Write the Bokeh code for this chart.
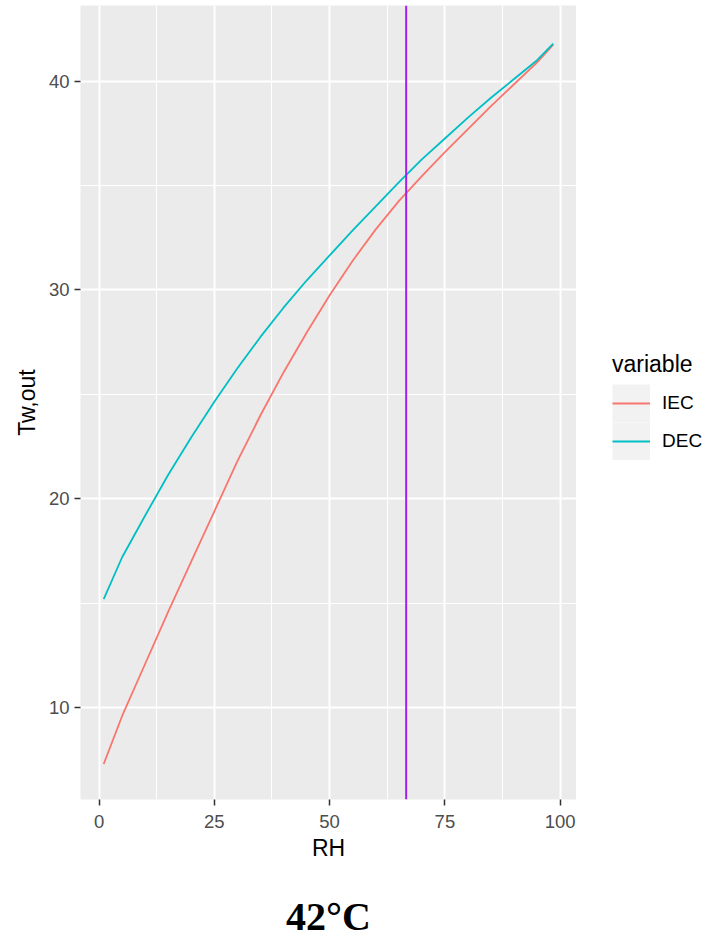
from bokeh.plotting import figure
from bokeh.layouts import row
from bokeh.models import Range1d, FixedTicker, Span, Legend, LegendItem, Title
from bokeh.embed import file_html
from bokeh.resources import INLINE

# Outlet water temperature against relative humidity, inlet air at 42 °C
rh = [1, 5, 10, 15, 20, 25, 30, 35, 40, 45, 50, 55, 60, 65, 70, 75, 80, 85, 90, 95, 98.5]
iec = [7.3, 9.6, 12.1, 14.6, 17.0, 19.4, 21.8, 24.0, 26.05, 27.95, 29.75, 31.4, 32.9, 34.25,
       35.45, 36.6, 37.7, 38.8, 39.85, 40.9, 41.75]
dec = [15.2, 17.2, 19.2, 21.15, 22.95, 24.65, 26.25, 27.75, 29.15, 30.45, 31.65, 32.85, 34.0,
       35.15, 36.25, 37.25, 38.25, 39.2, 40.1, 41.0, 41.8]
rh_marker = 66.6

series_names = ["IEC", "DEC"]
series_colors = ["#F8766D", "#00BFC4"]
x_ticks = [0, 25, 50, 75, 100]
x_minor = [12.5, 37.5, 62.5, 87.5]
y_ticks = [10, 20, 30, 40]
y_minor = [15, 25, 35]

SANS = "Liberation Sans"
LINE_W = 1.8

p = figure(frame_width=496, frame_height=794, output_backend="svg", toolbar_location=None,
           x_range=Range1d(-4.03, 103.54), y_range=Range1d(5.6, 43.62),
           min_border_left=80, min_border_right=0, min_border_top=5,
           min_border_bottom=0,
           background_fill_color="#EBEBEB", border_fill_color="white",
           outline_line_color=None)

p.xaxis.ticker = FixedTicker(ticks=x_ticks, minor_ticks=x_minor)
p.yaxis.ticker = FixedTicker(ticks=y_ticks, minor_ticks=y_minor)

for grid in (p.xgrid, p.ygrid):
    grid.grid_line_color = "white"
    grid.grid_line_width = 2
    grid.minor_grid_line_color = "white"
    grid.minor_grid_line_width = 1

for ax in (p.xaxis, p.yaxis):
    ax.axis_line_color = None
    ax.major_tick_line_color = "#333333"
    ax.major_tick_line_width = 1.5
    ax.major_tick_out = 6
    ax.major_tick_in = 0
    ax.minor_tick_line_color = None
    ax.major_label_text_font = SANS
    ax.major_label_text_font_size = "18.5px"
    ax.major_label_text_color = "#4D4D4D"
    ax.axis_label_text_font = SANS
    ax.axis_label_text_font_size = "23px"
    ax.axis_label_text_font_style = "normal"
    ax.axis_label_text_color = "black"

p.xaxis.major_label_standoff = 9
p.xaxis.axis_label_standoff = 4
p.yaxis.major_label_standoff = 5
p.yaxis.axis_label_standoff = 6

p.xaxis.axis_label = "RH"
p.yaxis.axis_label = "Tw,out"

p.line(rh, iec, line_color=series_colors[0], line_width=LINE_W)
p.line(rh, dec, line_color=series_colors[1], line_width=LINE_W)

p.add_layout(Span(location=rh_marker, dimension="height",
                  line_color="#A020F0", line_width=2))

p.add_layout(Title(text="42°C", align="center", text_font="Liberation Serif",
                   text_font_size="40px", text_font_style="bold",
                   text_color="black", offset=-2.5, standoff=56), "below")

# Legend column to the right of the panel; its keys come from hidden
# copies of the two series (a wide grey line gives the key background).
leg_fig = figure(width=133, height=937, output_backend="svg", toolbar_location=None,
                 x_axis_location=None, y_axis_location=None, min_border=0,
                 outline_line_color=None, background_fill_color="white",
                 border_fill_color="white")
leg_fig.grid.visible = False

items = []
for name, color, ys in zip(series_names, series_colors, [iec, dec]):
    bg = leg_fig.line(rh, ys, line_color="#F2F2F2", line_width=38,
                      line_cap="butt", visible=False)
    fg = leg_fig.line(rh, ys, line_color=color, line_width=LINE_W, visible=False)
    items.append(LegendItem(label=name, renderers=[bg, fg]))

legend = Legend(
    items=items, location=(36, 310), title="variable", orientation="vertical",
    margin=0, padding=0, spacing=0, glyph_width=38, glyph_height=38,
    label_standoff=12, title_standoff=6, border_line_color=None,
    background_fill_alpha=0,
    label_text_font=SANS, label_text_font_size="19px", label_text_color="black",
    title_text_font=SANS, title_text_font_size="23px",
    title_text_font_style="normal", title_text_color="black",
)
leg_fig.add_layout(legend)

layout = row(p, leg_fig)

open("out.html", "w").write(file_html(layout, INLINE))
